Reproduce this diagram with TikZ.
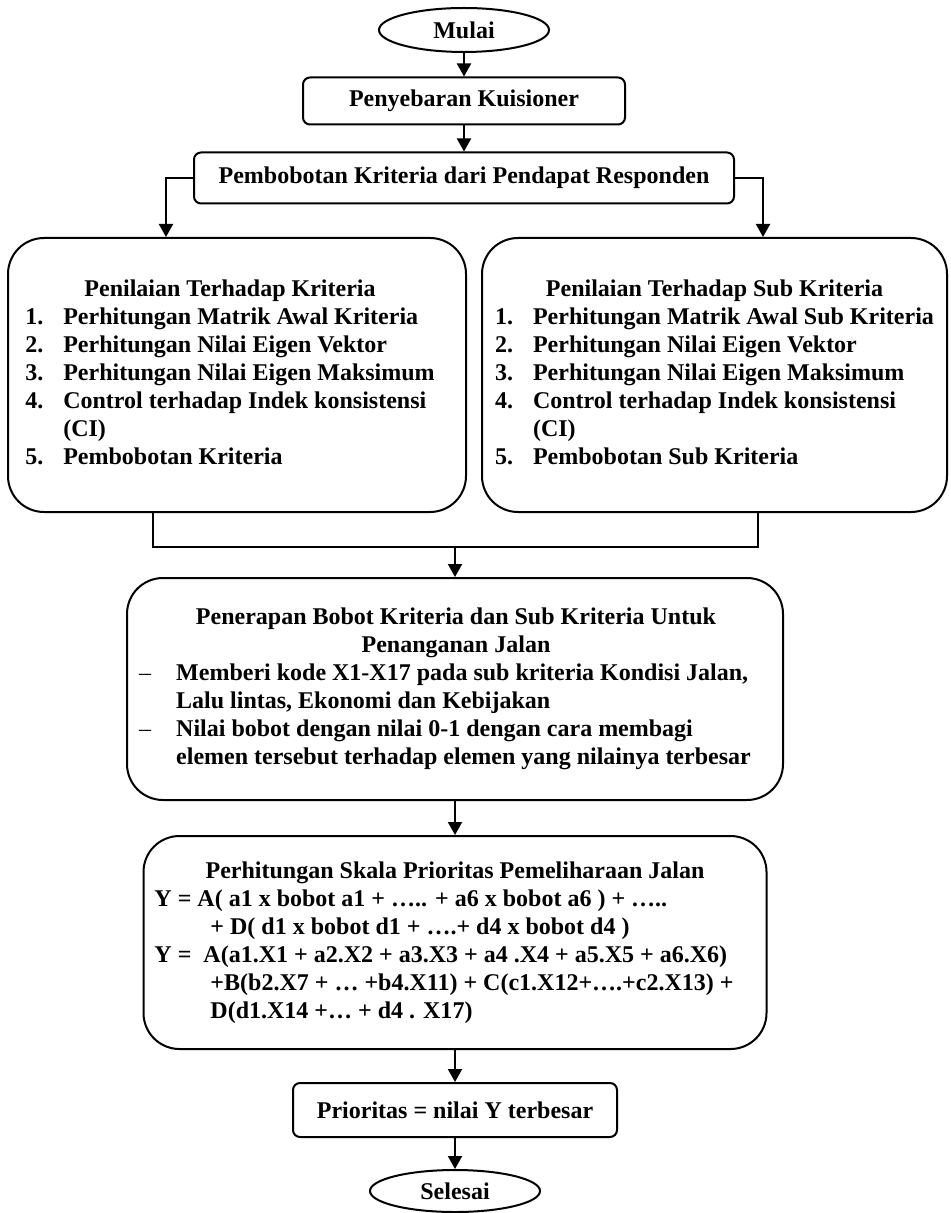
\documentclass[tikz,border=0pt]{standalone}
\usepackage{fontspec}
\setmainfont{Liberation Serif}
\usetikzlibrary{arrows.meta, positioning, shapes.geometric}

\begin{document}
\begin{tikzpicture}[
    x=0.5pt, y=-0.5pt,
    >={Triangle[length=6.5pt,width=7pt]},
    line width=1pt,
    font=\bfseries\fontsize{12}{14}\selectfont,
    term/.style={
        draw,
        ellipse,
        minimum width=85pt,
        minimum height=22pt,
        inner sep=1pt
    },
    proc/.style={
        draw,
        rounded corners=3.5pt,
        inner sep=2pt
    },
    bigproc/.style={
        draw,
        rounded corners=18pt,
        inner sep=2pt
    }
]
\useasboundingbox (0,0) rectangle (951,1213);

% =========================================================
% Start and first steps
% =========================================================
\node[term] (mulai) at (464,30) {Mulai};
\node[proc, minimum width=161pt, minimum height=23.5pt] (sebar) at (464,101)
    {Penyebaran Kuisioner};
\node[proc, minimum width=270pt, minimum height=25.5pt] (bobot) at (464,178)
    {Pembobotan Kriteria dari Pendapat Responden};

% =========================================================
% Two assessment boxes
% =========================================================
\node[bigproc, minimum width=229pt, minimum height=137pt] (krit) at (237,375) {%
\begin{tabular}{@{}p{19pt}@{}l@{}}
\multicolumn{2}{c}{Penilaian Terhadap Kriteria}\\
1. & Perhitungan Matrik Awal Kriteria\\
2. & Perhitungan Nilai Eigen Vektor\\
3. & Perhitungan Nilai Eigen Maksimum\\
4. & Control terhadap Indek konsistensi\\
   & (CI)\\
5. & Pembobotan Kriteria
\end{tabular}\hspace{7pt}\mbox{}};

\node[bigproc, minimum width=232.5pt, minimum height=137pt] (sub) at (714.5,375) {%
\begin{tabular}{@{}p{19pt}@{}l@{}}
\multicolumn{2}{c}{Penilaian Terhadap Sub Kriteria}\\
1. & Perhitungan Matrik Awal Sub Kriteria\\
2. & Perhitungan Nilai Eigen Vektor\\
3. & Perhitungan Nilai Eigen Maksimum\\
4. & Control terhadap Indek konsistensi\\
   & (CI)\\
5. & Pembobotan Sub Kriteria
\end{tabular}};

% =========================================================
% Applying the weights
% =========================================================
\node[bigproc, minimum width=328pt, minimum height=111pt] (terap) at (455,689) {%
\begin{tabular}{@{}p{18.5pt}@{}l@{}}
\multicolumn{2}{c}{\hspace*{11pt}Penerapan Bobot Kriteria dan Sub Kriteria Untuk}\\
\multicolumn{2}{c}{\hspace*{11pt}Penanganan Jalan}\\
\textmd{\textendash} & Memberi kode X1-X17 pada sub kriteria Kondisi Jalan,\\
   & Lalu lintas, Ekonomi dan Kebijakan\\
\textmd{\textendash} & Nilai bobot dengan nilai 0-1 dengan cara membagi\\
   & elemen tersebut terhadap elemen yang nilainya terbesar
\end{tabular}\hspace{10pt}\mbox{}};

% =========================================================
% Priority scale
% =========================================================
\node[bigproc, minimum width=311.5pt, minimum height=106.5pt] (hitung) at (455,942.5) {%
\begin{tabular}{@{}l@{}}
\multicolumn{1}{c}{\hspace*{11pt}Perhitungan Skala Prioritas Pemeliharaan Jalan}\\
Y = A( a1 x bobot a1 + ….. + a6 x bobot a6 ) + …..\\
\hspace{28pt}+ D( d1 x bobot d1 + ….+ d4 x bobot d4 )\\
Y =\ \ A(a1.X1 + a2.X2 + a3.X3 + a4 .X4 + a5.X5 + a6.X6)\\
\hspace{28pt}+B(b2.X7 + … +b4.X11) + C(c1.X12+….+c2.X13) +\\
\hspace{28pt}D(d1.X14 +… + d4 . X17)
\end{tabular}\hspace{11pt}\mbox{}};

\node[proc, minimum width=162pt, minimum height=27pt] (prior) at (455,1110)
    {Prioritas = nilai Y terbesar};
\node[term, minimum height=21pt] (selesai) at (455,1191) {Selesai};

% =========================================================
% Connectors
% =========================================================
\draw[->] (mulai) -- (sebar);
\draw[->] (sebar) -- (bobot);

\draw[->] (bobot.west) -| ([xshift=-35.5pt]krit.north);
\draw[->] (bobot.east) -| ([xshift=24.25pt]sub.north);

\coordinate (gab) at (455,547);
\draw ([xshift=-42pt]krit.south) |- (gab) -| ([xshift=21.75pt]sub.south);
\draw[->] (gab) -- (terap);

\draw[->] (terap) -- (hitung);
\draw[->] (hitung) -- (prior);
\draw[->] (prior) -- (selesai);

\end{tikzpicture}
\end{document}
